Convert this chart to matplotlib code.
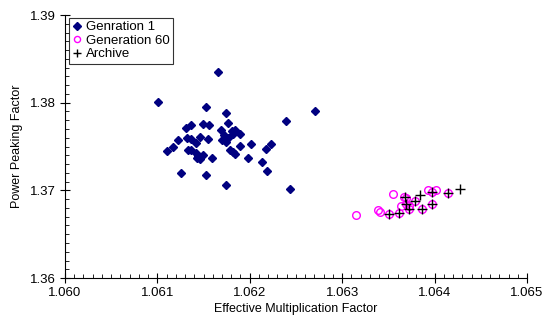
# scatter of generation 1 / generation 60 / archive (Excel-like look)
import matplotlib
matplotlib.use("Agg")
import matplotlib.pyplot as plt
from matplotlib.ticker import MultipleLocator, FormatStrFormatter

plt.rcParams["font.family"] = ["Liberation Sans", "DejaVu Sans"]

# ---------- data ----------
gen1_k = [1.06101, 1.06166, 1.06153, 1.06174, 1.06177, 1.06137, 1.06131, 1.06149,
          1.06156, 1.06239, 1.06271, 1.06169, 1.06172, 1.06170, 1.06181, 1.06184,
          1.06182, 1.06189, 1.06190, 1.06201, 1.06179, 1.06182, 1.06184, 1.06198,
          1.06218, 1.06223, 1.06213, 1.06219, 1.06122, 1.06132, 1.06137, 1.06146,
          1.06155, 1.06117, 1.06111, 1.06142, 1.06133, 1.06136, 1.06142, 1.06144,
          1.06143, 1.06146, 1.06149, 1.06159, 1.06126, 1.06153, 1.06174, 1.06244,
          1.06176, 1.06174]
gen1_ppf = [1.38008, 1.38350, 1.37951, 1.37883, 1.37769, 1.37746, 1.37712, 1.37757,
            1.37746, 1.37791, 1.37905, 1.37689, 1.37632, 1.37575, 1.37677, 1.37689,
            1.37643, 1.37643, 1.37506, 1.37529, 1.37461, 1.37438, 1.37415, 1.37369,
            1.37472, 1.37529, 1.37324, 1.37221, 1.37575, 1.37597, 1.37586, 1.37609,
            1.37586, 1.37495, 1.37449, 1.37540, 1.37461, 1.37461, 1.37426, 1.37392,
            1.37369, 1.37358, 1.37404, 1.37369, 1.37198, 1.37176, 1.37062, 1.37016,
            1.37597, 1.37552]

gen60_k = [1.06315, 1.06355, 1.06339, 1.06341, 1.06351, 1.06361, 1.06367, 1.06369,
           1.06364, 1.06369, 1.06372, 1.06372, 1.06379, 1.06386, 1.06393, 1.06402,
           1.06397, 1.06397, 1.06415]
gen60_ppf = [1.36719, 1.36959, 1.36777, 1.36754, 1.36731, 1.36742, 1.36925, 1.36913,
             1.36822, 1.36845, 1.36822, 1.36788, 1.36879, 1.36788, 1.37005, 1.37005,
             1.36982, 1.36845, 1.36970]

arch_k = [1.06351, 1.06361, 1.06368, 1.06369, 1.06372, 1.06379, 1.06384, 1.06386,
          1.06397, 1.06397, 1.06415, 1.06427]
arch_ppf = [1.36731, 1.36742, 1.36925, 1.36845, 1.36788, 1.36879, 1.36948, 1.36788,
            1.36982, 1.36845, 1.36970, 1.37016]

# ---------- figure ----------
fig = plt.figure(figsize=(5.45, 3.2), dpi=100)
ax = fig.add_axes([0.119, 0.131, 0.848, 0.822])

ax.plot(gen1_k, gen1_ppf, ls="none", marker="D", ms=4.5, color="#000080",
        mec="#000080", label="Genration 1")
ax.plot(gen60_k, gen60_ppf, ls="none", marker="o", ms=5.5, mfc="none",
        mec="#FF00FF", mew=1.0, label="Generation 60")
ax.plot(arch_k, arch_ppf, ls="none", marker="+", ms=7.5, color="black",
        mew=1.0, label="Archive")

ax.set_xlim(1.060, 1.065)
ax.set_ylim(1.36, 1.39)
ax.xaxis.set_major_locator(MultipleLocator(0.001))
ax.xaxis.set_minor_locator(MultipleLocator(0.0001))
ax.yaxis.set_major_locator(MultipleLocator(0.01))
ax.yaxis.set_minor_locator(MultipleLocator(0.001))
ax.xaxis.set_major_formatter(FormatStrFormatter("%.3f"))
ax.yaxis.set_major_formatter(FormatStrFormatter("%.2f"))
ax.tick_params(which="major", direction="inout", length=7, width=0.8,
               labelsize=9.5, pad=3)
ax.tick_params(which="minor", direction="in", length=3, width=0.6)

for s in ("top", "right"):
    ax.spines[s].set_visible(False)
for s in ("left", "bottom"):
    ax.spines[s].set_linewidth(0.8)

ax.set_xlabel("Effective Multiplication Factor", fontsize=9, labelpad=3)
ax.set_ylabel("Power Peaking Factor", fontsize=9, labelpad=5)

leg = ax.legend(loc="upper left", bbox_to_anchor=(0.008, 0.99), fontsize=9.5,
                frameon=True, fancybox=False, edgecolor="black",
                handlelength=0.8, handletextpad=0.3, borderpad=0.25,
                labelspacing=0.1, borderaxespad=0.0, markerscale=0.8)
leg.get_frame().set_linewidth(0.8)

fig.savefig("out.png", dpi=100)
